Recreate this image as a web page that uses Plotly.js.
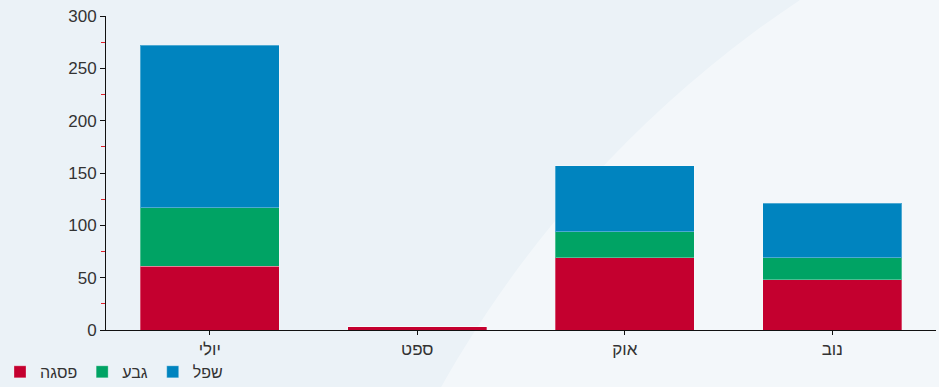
<!DOCTYPE html>
<html>
<head>
<meta charset="utf-8">
<script src="https://cdn.plot.ly/plotly-3.0.1.min.js"></script>
<style>
  html, body { margin: 0; padding: 0; background: #ebf2f7; }
  #chart { width: 939px; height: 387px; }
</style>
</head>
<body>
<div id="chart"></div>
<script>
// Months (x categories)
const months = ['יולי', 'ספט', 'אוק', 'נוב'];

// Stacked series, bottom to top
const peakValues = [61, 3, 69, 48];    // פסגה
const midValues  = [56, 0, 25, 21];    // גבע
const lowValues  = [155, 0, 63, 52];   // שפל

const seriesNames  = ['פסגה', 'גבע', 'שפל'];
const seriesColors = ['#c4002f', '#00a364', '#0084bf'];
const seriesValues = [peakValues, midValues, lowValues];

const yTicks = [0, 50, 100, 150, 200, 250, 300];

const traces = seriesValues.map((vals, i) => ({
  type: 'bar',
  name: seriesNames[i],
  x: months,
  y: vals,
  marker: {
    color: seriesColors[i],
    line: { color: 'rgba(255,255,255,0.3)', width: 1 }
  },
  hoverinfo: 'x+y+name'
}));

const layout = {
  width: 939,
  height: 387,
  barmode: 'stack',
  bargap: 0.33,
  paper_bgcolor: '#ebf2f7',
  plot_bgcolor: 'rgba(0,0,0,0)',
  margin: { l: 106, r: 3, t: 16, b: 57 },
  font: { family: 'Liberation Sans, Arial, sans-serif', size: 16, color: '#333' },
  showlegend: true,
  legend: {
    orientation: 'h',
    traceorder: 'normal',
    xref: 'container',
    yref: 'container',
    x: -0.004,
    xanchor: 'left',
    y: 0.039,
    yanchor: 'middle',
    font: { size: 16, color: '#333' },
    itemwidth: 30,
    bgcolor: 'rgba(0,0,0,0)'
  },
  xaxis: {
    type: 'category',
    range: [-0.5, 3.5],
    showline: true,
    linecolor: '#111',
    linewidth: 1,
    ticks: 'outside',
    ticklen: 4,
    tickcolor: '#111',
    showgrid: false,
    zeroline: false,
    automargin: false,
    tickfont: { size: 17, color: '#333' }
  },
  yaxis: {
    range: [0, 300],
    tickvals: yTicks,
    showline: true,
    linecolor: '#111',
    linewidth: 1,
    ticks: 'outside',
    ticklen: 5,
    tickcolor: '#111',
    showgrid: false,
    zeroline: false,
    automargin: false,
    tickfont: { size: 17, color: '#333' },
    minor: {
      ticks: 'outside',
      ticklen: 4,
      tickcolor: '#e0202a',
      dtick: 25,
      tick0: 25,
      showgrid: false
    }
  },
  shapes: [
    {
      // soft light arc in the background
      type: 'circle',
      xref: 'paper', yref: 'paper',
      x0: 0.229, x1: 2.955, y0: -5.548, y1: 1.656,
      fillcolor: 'rgba(255,255,255,0.4)',
      line: { width: 0 },
      layer: 'below'
    }
  ]
};

Plotly.newPlot('chart', traces, layout, { displayModeBar: false, staticPlot: true });
</script>
</body>
</html>
